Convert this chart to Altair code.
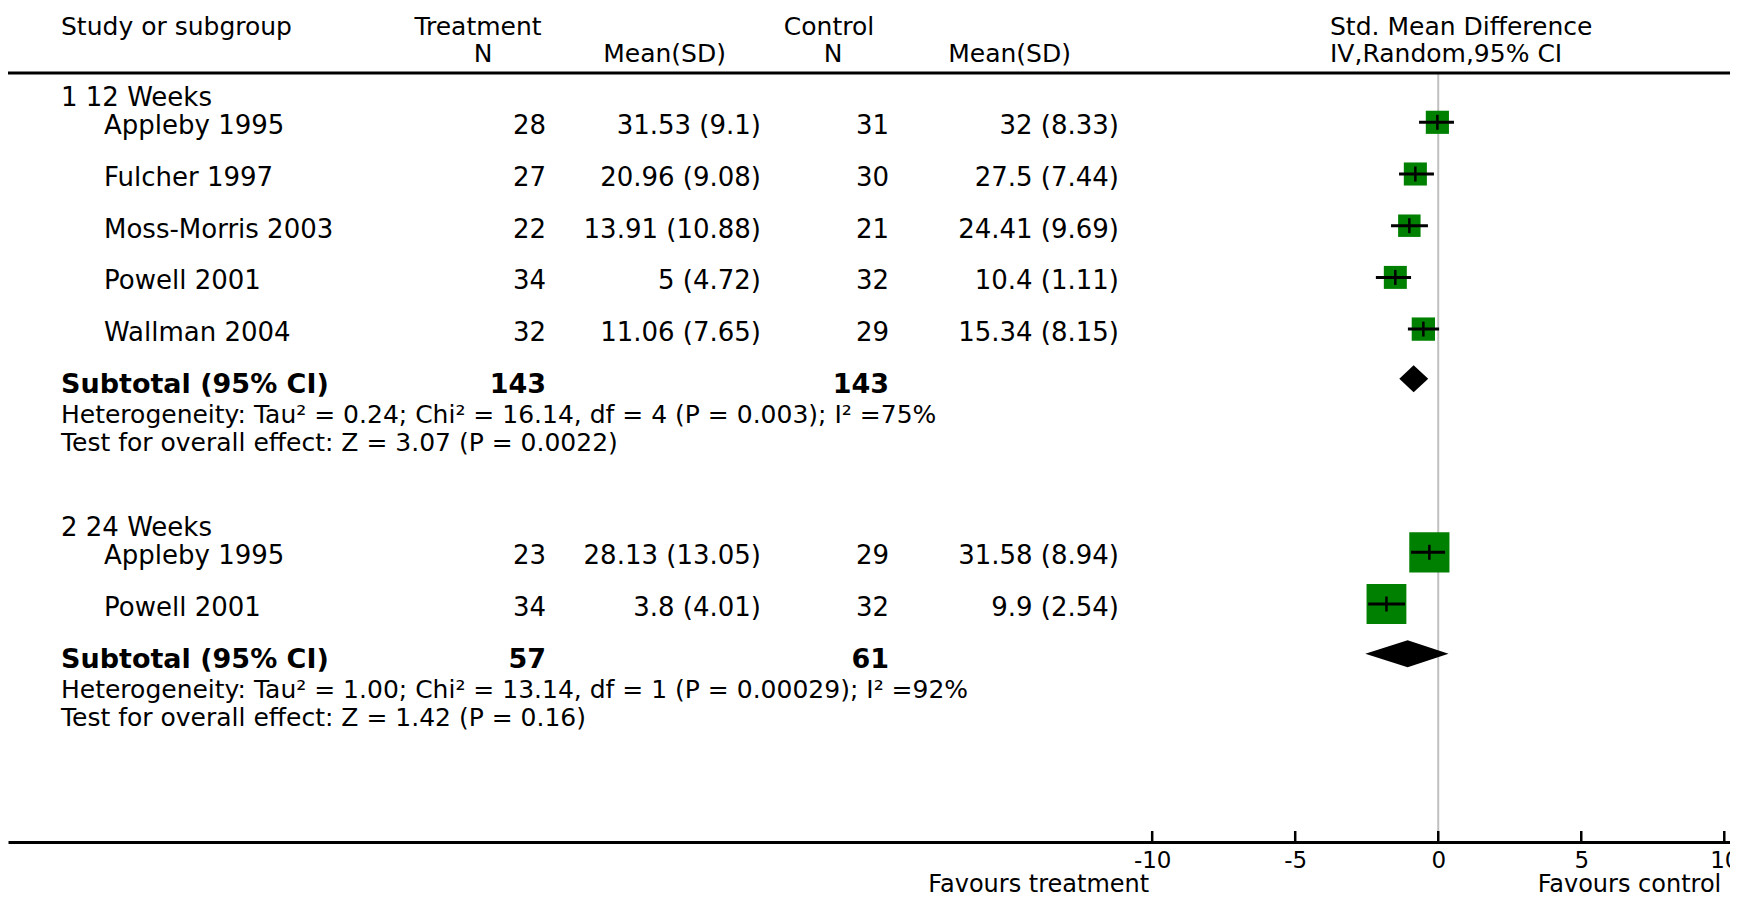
import altair as alt
import pandas as pd

FONT = "DejaVu Sans"
GREEN = "#008000"

# ---------------- data ----------------
group_titles = ["1 12 Weeks", "2 24 Weeks"]

g1_names = ["Appleby 1995", "Fulcher 1997", "Moss-Morris 2003", "Powell 2001", "Wallman 2004"]
g1_t_n = [28, 27, 22, 34, 32]
g1_t_msd = ["31.53 (9.1)", "20.96 (9.08)", "13.91 (10.88)", "5 (4.72)", "11.06 (7.65)"]
g1_c_n = [31, 30, 21, 32, 29]
g1_c_msd = ["32 (8.33)", "27.5 (7.44)", "24.41 (9.69)", "10.4 (1.11)", "15.34 (8.15)"]
g1_smd = [-0.03, -0.80, -1.01, -1.50, -0.52]
g1_lo = [-0.67, -1.37, -1.65, -2.18, -1.06]
g1_hi = [0.55, -0.15, -0.36, -0.95, 0.03]
g1_weight = [20.2, 20.1, 19.3, 20.0, 20.4]

g2_names = ["Appleby 1995", "Powell 2001"]
g2_t_n = [23, 34]
g2_t_msd = ["28.13 (13.05)", "3.8 (4.01)"]
g2_c_n = [29, 32]
g2_c_msd = ["31.58 (8.94)", "9.9 (2.54)"]
g2_smd = [-0.31, -1.81]
g2_lo = [-0.95, -2.45]
g2_hi = [0.24, -1.16]
g2_weight = [50.4, 49.6]

sub_label = "Subtotal (95% CI)"
sub_t_n = [143, 57]
sub_c_n = [143, 61]
sub_smd = [-0.86, -1.07]
sub_lo = [-1.36, -2.55]
sub_hi = [-0.35, 0.36]
sub_het = [
    "Heterogeneity: Tau² = 0.24; Chi² = 16.14, df = 4 (P = 0.003); I² =75%",
    "Heterogeneity: Tau² = 1.00; Chi² = 13.14, df = 1 (P = 0.00029); I² =92%",
]
sub_test = [
    "Test for overall effect: Z = 3.07 (P = 0.0022)",
    "Test for overall effect: Z = 1.42 (P = 0.16)",
]

header_top = ["Study or subgroup", "Treatment", "Control", "Std. Mean Difference"]
header_bottom = ["N", "Mean(SD)", "N", "Mean(SD)", "IV,Random,95% CI"]

x_ticks = [-10, -5, 0, 5, 10]
favour_labels = ["Favours treatment", "Favours control"]
favour_at = [-10, 10]

# ---------------- layout ----------------
W, H = 1722, 834
PB = 57
X_DOM = [-50.0, 10.2]
PITCH = 51.7
FIRST_ROW = [114.3, 544.3]
HEAD_LINE = 65
DIAMOND_HALF = 13.5

XS = alt.Scale(domain=X_DOM, nice=False, zero=False)
YS = alt.Scale(domain=[0, H], reverse=True, nice=False, zero=False)
XA = alt.Axis(values=x_ticks, ticks=False, grid=False, domain=True, domainColor="black",
              domainWidth=3, labelFont=FONT, labelFontSize=23, labelColor="black",
              labelPadding=7, labelExpr="'' + datum.value", labelFlush=False,
              labelOverlap=False, title=None)

groups = [
    (g1_names, g1_t_n, g1_t_msd, g1_c_n, g1_c_msd, g1_smd, g1_lo, g1_hi, g1_weight),
    (g2_names, g2_t_n, g2_t_msd, g2_c_n, g2_c_msd, g2_smd, g2_lo, g2_hi, g2_weight),
]

study_rows, title_rows, sub_rows, diamond_rows = [], [], [], []
for g, (nm, tn, tm, cn, cm, est, lo, hi, w) in enumerate(groups):
    first = FIRST_ROW[g]
    title_rows.append(dict(text=group_titles[g], yt=first - 16.3))
    for i in range(len(nm)):
        yc = first + i * PITCH
        study_rows.append(dict(name=nm[i], tn=str(tn[i]), tm=tm[i], cn=str(cn[i]), cm=cm[i],
                               est=est[i], lo=lo[i], hi=hi[i], w=w[i], yc=yc, yt=yc + 12))
    sc = first + (len(nm) - 1) * PITCH + PITCH - 2
    sub_rows.append(dict(label=sub_label, tn=str(sub_t_n[g]), cn=str(sub_c_n[g]),
                         het=sub_het[g], test=sub_test[g],
                         yb=sc + 14, yh=sc + 44, ytest=sc + 72))
    for xv, a, b in [(sub_lo[g], sc, sc), (sub_smd[g], sc - DIAMOND_HALF, sc + DIAMOND_HALF),
                     (sub_hi[g], sc, sc)]:
        diamond_rows.append(dict(g=g, x=xv, y1=a, y2=b))

studies = pd.DataFrame(study_rows)
titles = pd.DataFrame(title_rows)
subs = pd.DataFrame(sub_rows)
diamonds = pd.DataFrame(diamond_rows)
head_top = pd.DataFrame(dict(text=header_top, yt=[27] * len(header_top)))
head_bot = pd.DataFrame(dict(text=header_bottom, yt=[53.5] * len(header_bottom)))
ticks = pd.DataFrame(dict(v=x_ticks))
favours = pd.DataFrame(dict(label=favour_labels, v=favour_at))
zero = pd.DataFrame(dict(v=[0]))


def txt(df, field, x, yfield, align="left", size=26, weight="normal"):
    return alt.Chart(df).mark_text(
        align=align, baseline="alphabetic", font=FONT, fontSize=size,
        fontWeight=weight, color="black"
    ).encode(x=alt.value(x), y=alt.Y(f"{yfield}:Q", scale=YS, axis=None),
             text=alt.Text(f"{field}:N"))


def hdr(df, idx, x, align):
    return txt(df.iloc[[idx]], "text", x, "yt", align=align, size=25)


layers = []

# zero line
layers.append(alt.Chart(zero).mark_rule(color="#c0c0c0", strokeWidth=2).encode(
    x=alt.X("v:Q", scale=XS, axis=XA), y=alt.value(HEAD_LINE), y2=alt.value(H)))
# header rule
layers.append(alt.Chart(zero).mark_rule(color="black", strokeWidth=3).encode(
    x=alt.value(0), x2=alt.value(W), y=alt.value(HEAD_LINE)))
# axis ticks
layers.append(alt.Chart(ticks).mark_rule(color="black", strokeWidth=2.5).encode(
    x=alt.X("v:Q", scale=XS, axis=XA), y=alt.value(H - 11), y2=alt.value(H)))
# squares
layers.append(alt.Chart(studies).mark_square(color=GREEN, opacity=1, filled=True).encode(
    x=alt.X("est:Q", scale=XS, axis=XA), y=alt.Y("yc:Q", scale=YS, axis=None),
    size=alt.Size("w:Q", scale=alt.Scale(domain=[20, 50], range=[529, 1600]), legend=None)))
# CI lines
layers.append(alt.Chart(studies).mark_rule(color="black", strokeWidth=3).encode(
    x=alt.X("lo:Q", scale=XS, axis=XA), x2="hi:Q", y=alt.Y("yc:Q", scale=YS, axis=None)))
# center ticks
layers.append(alt.Chart(studies).mark_tick(color="black", orient="vertical", size=15,
                                           thickness=2.5, opacity=1).encode(
    x=alt.X("est:Q", scale=XS, axis=XA), y=alt.Y("yc:Q", scale=YS, axis=None)))
# diamonds
layers.append(alt.Chart(diamonds).mark_area(color="black", orient="vertical", opacity=1).encode(
    x=alt.X("x:Q", scale=XS, axis=XA), y=alt.Y("y1:Q", scale=YS, axis=None), y2="y2:Q",
    detail="g:N"))

# headers
layers.append(hdr(head_top, 0, 53, "left"))
layers.append(hdr(head_top, 1, 470, "center"))
layers.append(hdr(head_top, 2, 821, "center"))
layers.append(hdr(head_top, 3, 1322, "left"))
layers.append(hdr(head_bot, 0, 475, "center"))
layers.append(hdr(head_bot, 1, 718, "right"))
layers.append(hdr(head_bot, 2, 825, "center"))
layers.append(hdr(head_bot, 3, 1063, "right"))
layers.append(hdr(head_bot, 4, 1322, "left"))

# group titles and study rows
layers.append(txt(titles, "text", 53, "yt"))
layers.append(txt(studies, "name", 96, "yt"))
layers.append(txt(studies, "tn", 538, "yt", align="right"))
layers.append(txt(studies, "tm", 753, "yt", align="right"))
layers.append(txt(studies, "cn", 881, "yt", align="right"))
layers.append(txt(studies, "cm", 1111, "yt", align="right"))

# subtotals
layers.append(txt(subs, "label", 53, "yb", size=27, weight="bold"))
layers.append(txt(subs, "tn", 538, "yb", align="right", size=27, weight="bold"))
layers.append(txt(subs, "cn", 881, "yb", align="right", size=27, weight="bold"))
layers.append(txt(subs, "het", 53, "yh", size=25))
layers.append(txt(subs, "test", 53, "ytest", size=25))

# favours labels
layers.append(alt.Chart(favours).mark_text(
    align="right", baseline="alphabetic", font=FONT, fontSize=24, color="black", dx=-3
).encode(x=alt.X("v:Q", scale=XS, axis=XA), y=alt.value(H + 50), text="label:N"))

chart = alt.layer(*layers).properties(
    width=W, height=H,
    padding={"left": 0, "top": 0, "right": 0, "bottom": PB},
    autosize=alt.AutoSizeParams(type="none"),
    background="white",
).configure_view(stroke=None)

chart.save("out.html", embed_options={"renderer": "svg", "actions": False})
